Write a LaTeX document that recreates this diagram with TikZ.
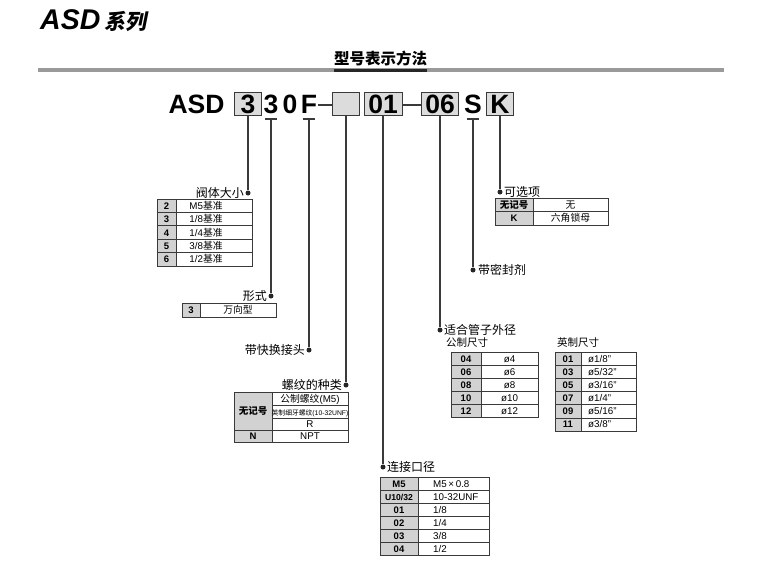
\documentclass[tikz,border=0pt]{standalone}
\usepackage{fontspec}
\setmainfont{Liberation Sans}
\newfontfamily\cjk{Noto Sans CJK SC}
\newfontfamily\cjksl[FakeSlant=0.2]{Noto Sans CJK SC}
\definecolor{linec}{HTML}{3A3A3A}
\definecolor{boxfill}{HTML}{DCDCDC}
\definecolor{keyfill}{HTML}{D2D2D2}
\definecolor{rulegray}{HTML}{9A9A9A}
\tikzset{
  conn/.style={draw=linec, line width=1.3pt},
  dot/.style={circle, fill=black!85, minimum size=5pt, inner sep=0},
  codetxt/.style={font=\fontsize{26.5}{28}\selectfont\bfseries, text height=19pt, text depth=0pt, inner sep=0},
  codebox/.style={codetxt, draw=linec, fill=boxfill, line width=0.9pt, minimum height=23pt},
  lbl/.style={font=\cjk\fontsize{12}{14}\selectfont, inner sep=0},
  sublbl/.style={font=\cjk\fontsize{10.5}{12}\selectfont, inner sep=0},
  tabline/.style={draw=linec, line width=0.7pt},
  cell/.style={font=\fontsize{9.8}{11}\selectfont, text height=7pt, text depth=0pt, inner sep=0},
  keycell/.style={cell, font=\fontsize{9.5}{11}\selectfont\bfseries},
}
\begin{document}
\begin{tikzpicture}[x=1pt, y=-1pt]
\useasboundingbox (0,0) rectangle (784,579);
% title and heading
\node[anchor=base west, inner sep=0, font=\fontsize{28.5}{30}\selectfont\bfseries\itshape] (ttl) at (40,29) {ASD};
\node[anchor=base west, inner sep=0, font=\cjksl\bfseries\fontsize{21}{23}\selectfont] (ttlb) at ([xshift=4pt]ttl.base east) {系列};
\node[inner sep=0, font=\cjk\bfseries\fontsize{15.5}{17}\selectfont] (hd) at (380.5,59) {型号表示方法};
\draw[rulegray, line width=3.5pt] (38,70) -- (724,70);
\draw[black!85, line width=3pt] (hd.west |- 0,70) -- (hd.east |- 0,70);

% code line
\node[codetxt, anchor=base] (asd) at (196.5,113) {ASD};
\node[codebox, minimum width=27pt] (b1) at (248,103.5) {3};
\node[codetxt, anchor=base] (c2) at (271,113) {3};
\node[codetxt, anchor=base] (c3) at (290,113) {0};
\node[codetxt, anchor=base] (cf) at (309,113) {F};
\node[codebox, minimum width=27pt] (b4) at (346,103.5) {};
\node[codebox, minimum width=38pt] (b5) at (383,103.5) {01};
\node[codebox, minimum width=37pt] (b6) at (440,103.5) {06};
\node[codetxt, anchor=base] (cs) at (473,113) {S};
\node[codebox, minimum width=27pt] (bk) at (500,103.5) {K};
\draw[conn] ([xshift=1pt]cf.east |- 0,105) -- (b4.west |- 0,105);
\draw[conn] (b5.east |- 0,105) -- (b6.west |- 0,105);

% ticks under plain letters
\coordinate (t2) at ([yshift=-6pt]c2.base);
\coordinate (tf) at ([yshift=-6pt]cf.base);
\coordinate (ts) at ([yshift=-6pt]cs.base);
\foreach \t in {t2,tf,ts}
  \draw[conn] ([xshift=-6pt]\t) -- ([xshift=6pt]\t);

% dots and labels
\node[dot] (d1) at (b1.south |- 0,193) {};
\node[dot] (d2) at (t2 |- 0,296) {};
\node[dot] (d3) at (tf |- 0,350) {};
\node[dot] (d4) at (b4.south |- 0,385) {};
\node[dot] (d5) at (b5.south |- 0,467) {};
\node[dot] (d6) at (b6.south |- 0,330) {};
\node[dot] (d7) at (ts |- 0,270) {};
\node[dot] (d8) at (bk.south |- 0,192) {};
\draw[conn] (b1) -- (d1);
\draw[conn] (t2) -- (d2);
\draw[conn] (tf) -- (d3);
\draw[conn] (b4) -- (d4);
\draw[conn] (b5) -- (d5);
\draw[conn] (b6) -- (d6);
\draw[conn] (ts) -- (d7);
\draw[conn] (bk) -- (d8);
\node[lbl, anchor=east] (l1) at ([xshift=-4pt]d1.center) {阀体大小};
\node[lbl, anchor=east] (l2) at ([xshift=-4pt]d2.center) {形式};
\node[lbl, anchor=east] (l3) at ([xshift=-4pt]d3.center) {带快换接头};
\node[lbl, anchor=east] (l4) at ([xshift=-4pt]d4.center) {螺纹的种类};
\node[lbl, anchor=west] (l5) at ([xshift=4pt]d5.center) {连接口径};
\node[lbl, anchor=west] (l6) at ([xshift=4pt]d6.center) {适合管子外径};
\node[lbl, anchor=west] (l7) at ([xshift=5pt]d7.center) {带密封剂};
\node[lbl, anchor=west] (l8) at ([xshift=4pt]d8.center) {可选项};
\node[sublbl, anchor=west] (m1) at (446,343) {公制尺寸};
\node[sublbl, anchor=west] (m2) at (557,343) {英制尺寸};

% body size
\foreach \k/\v [count=\i] in {2/{M5{\cjk 基准}},3/{1/8{\cjk 基准}},4/{1/4{\cjk 基准}},5/{3/8{\cjk 基准}},6/{1/2{\cjk 基准}}}{
  \pgfmathsetmacro\yt{199+(\i-1)*13.4}
  \pgfmathsetmacro\yb{\yt+13.4}
  \fill[keyfill] (157,\yt) rectangle (176,\yb);
  \draw[tabline] (157,\yt) rectangle (252,\yb) (176,\yt) -- (176,\yb);
  \node[keycell] (sk\i) at (166.5,{(\yt+\yb)/2}) {\k};
  \node[cell] (sv\i) at (206,{(\yt+\yb)/2}) {\v};
}

% type
\fill[keyfill] (182,303) rectangle (200,317);
\draw[tabline] (182,303) rectangle (276,317) (200,303) -- (200,317);
\node[keycell] (fk1) at (191,310) {3};
\node[cell] (fv1) at (238,310) {\cjk 万向型};

% thread type
\fill[keyfill] (234,392) rectangle (272,442);
\draw[tabline] (234,392) rectangle (348,442) (272,392) -- (272,442);
\draw[tabline] (272,405) -- (348,405) (272,418) -- (348,418) (234,430) -- (348,430);
\node[keycell] (tk1) at (253,411) {\cjk 无记号};
\node[keycell] (tk2) at (253,436) {N};
\node[cell] (tv1) at (310,398.5) {{\cjk 公制螺纹}(M5)};
\node[cell, font=\fontsize{6.8}{8}\selectfont] (tv2) at (310,411.5) {{\cjk 英制细牙螺纹}(10-32UNF)};
\node[cell] (tv3) at (310,424) {R};
\node[cell] (tv4) at (310,436) {NPT};

% metric tube
\foreach \k/\v [count=\i] in {04/{ø4},06/{ø6},08/{ø8},10/{ø10},12/{ø12}}{
  \pgfmathsetmacro\yt{352+(\i-1)*13}
  \pgfmathsetmacro\yb{\yt+13}
  \fill[keyfill] (451,\yt) rectangle (481,\yb);
  \draw[tabline] (451,\yt) rectangle (538,\yb) (481,\yt) -- (481,\yb);
  \node[keycell] (mk\i) at (466,{(\yt+\yb)/2}) {\k};
  \node[cell] (mv\i) at (509.5,{(\yt+\yb)/2}) {\v};
}

% inch tube
\foreach \k/\v [count=\i] in {01/{ø1/8"},03/{ø5/32"},05/{ø3/16"},07/{ø1/4"},09/{ø5/16"},11/{ø3/8"}}{
  \pgfmathsetmacro\yt{352+(\i-1)*13.17}
  \pgfmathsetmacro\yb{\yt+13.17}
  \fill[keyfill] (555,\yt) rectangle (581,\yb);
  \draw[tabline] (555,\yt) rectangle (636,\yb) (581,\yt) -- (581,\yb);
  \node[keycell] (ik\i) at (568,{(\yt+\yb)/2}) {\k};
  \node[cell, anchor=west] (iv\i) at (588,{(\yt+\yb)/2}) {\v};
}

% port size
\foreach \v [count=\i] in {{M5\,×\,0.8},{10-32UNF},{1/8},{1/4},{3/8},{1/2}}{
  \pgfmathsetmacro\yt{477+(\i-1)*13}
  \pgfmathsetmacro\yb{\yt+13}
  \fill[keyfill] (380,\yt) rectangle (418,\yb);
  \draw[tabline] (380,\yt) rectangle (489,\yb) (418,\yt) -- (418,\yb);
  \node[cell, anchor=west] (pv\i) at (433,{(\yt+\yb)/2}) {\v};
}
\node[keycell] (pk1) at (399,483.5) {M5};
\node[keycell, font=\fontsize{8.6}{10}\selectfont\bfseries] (pk2) at (399,496.5) {U10/32};
\foreach \k [count=\i from 3] in {01,02,03,04}
  \node[keycell] (pk\i) at (399,{477+(\i-0.5)*13}) {\k};

% option
\foreach \k/\v [count=\i] in {{\cjk 无记号}/{\cjk 无},K/{\cjk 六角锁母}}{
  \pgfmathsetmacro\yt{198+(\i-1)*13.5}
  \pgfmathsetmacro\yb{\yt+13.5}
  \fill[keyfill] (495,\yt) rectangle (533,\yb);
  \draw[tabline] (495,\yt) rectangle (608,\yb) (533,\yt) -- (533,\yb);
  \node[keycell] (ok\i) at (514,{(\yt+\yb)/2}) {\k};
  \node[cell] (ov\i) at (570.5,{(\yt+\yb)/2}) {\v};
}
\end{tikzpicture}
\end{document}
